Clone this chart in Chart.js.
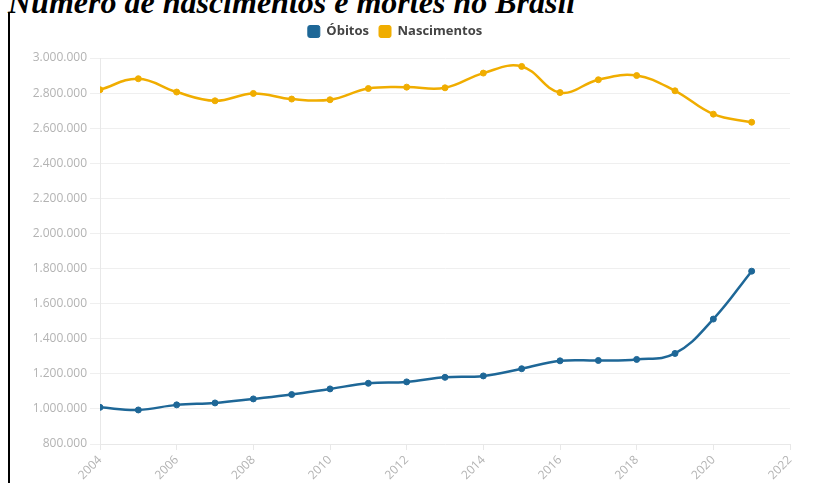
<!DOCTYPE html>
<html>
<head>
<meta charset="utf-8">
<script src="https://cdn.jsdelivr.net/npm/chart.js@4"></script>
<style>
    body { margin: 0; background: #fff; overflow: hidden; }
    #title {
        position: absolute; left: 8px; top: -14px; margin: 0;
        font: italic bold 32px "Liberation Serif", "Times New Roman", serif;
        line-height: 32px; white-space: nowrap; color: #000;
    }
    #rule { position: absolute; left: 8px; top: 12px; width: 2px; height: 471px; background: #000; }
    #wrap { position: absolute; left: 0; top: 0; width: 817px; height: 483px; }
</style>
</head>
<body>
<div id="title">Número de nascimentos e mortes no Brasil</div>
<div id="rule"></div>
<div id="wrap"><canvas id="chart"></canvas></div>
<script>
const years = [2004, 2005, 2006, 2007, 2008, 2009, 2010, 2011, 2012, 2013,
    2014, 2015, 2016, 2017, 2018, 2019, 2020, 2021];
const obitos = [1009000, 994000, 1023000, 1034000, 1057000, 1082000, 1114000, 1146000, 1154000, 1180000,
    1188000, 1229000, 1274000, 1276000, 1282000, 1316000, 1512000, 1785000];
const nascimentos = [2819000, 2882000, 2806000, 2756000, 2798000, 2766000, 2762000, 2826000, 2834000, 2830000,
    2914000, 2952000, 2803000, 2876000, 2900000, 2813000, 2680000, 2634000];

const BLUE = "#1e6797";
const YELLOW = "#f0ad00";
const tickFont = { family: "'Open Sans', sans-serif", size: 12 };

function points(values) {
    return years.map((y, i) => ({ x: y, y: values[i] }));
}

function dots(n) {
    return String(n).replace(/\B(?=(\d{3})+(?!\d))/g, ".");
}

// extra room between legend and plot area
const legendGap = {
    id: "legendGap",
    beforeLayout(chart) {
        const lg = chart.legend;
        if (lg && !lg._gap) {
            const fit = lg.fit;
            lg.fit = function () { fit.call(lg); lg.height += 10; };
            lg._gap = true;
        }
    }
};

new Chart(document.getElementById("chart"), {
    type: "line",
    data: {
        datasets: [
            {
                label: "Óbitos",
                data: points(obitos),
                borderColor: BLUE,
                backgroundColor: BLUE,
                borderWidth: 2.5,
                pointRadius: 3,
                pointBorderWidth: 1,
                tension: 0.4
            },
            {
                label: "Nascimentos",
                data: points(nascimentos),
                borderColor: YELLOW,
                backgroundColor: YELLOW,
                borderWidth: 2.5,
                pointRadius: 3,
                pointBorderWidth: 1,
                tension: 0.4
            }
        ]
    },
    plugins: [legendGap],
    options: {
        responsive: true,
        maintainAspectRatio: false,
        animation: false,
        layout: { padding: { top: 15, left: 0, right: 27, bottom: 0 } },
        plugins: {
            tooltip: { enabled: false },
            legend: {
                position: "top",
                labels: {
                    color: "#444",
                    font: { family: "'Open Sans', sans-serif", size: 13, weight: "bold" },
                    boxWidth: 12,
                    boxHeight: 12,
                    useBorderRadius: true,
                    borderRadius: 2,
                    padding: 10,
                    generateLabels(chart) {
                        return Chart.defaults.plugins.legend.labels.generateLabels(chart)
                            .map(item => ({ ...item, lineWidth: 1 }));
                    }
                }
            }
        },
        scales: {
            x: {
                type: "linear",
                min: 2004,
                max: 2022,
                afterFit(s) { s.height = 39; },
                grid: { drawOnChartArea: false, color: "#e8e8e8", tickLength: 6 },
                border: { color: "#e8e8e8" },
                ticks: {
                    stepSize: 2,
                    color: "#b3b3b3",
                    font: tickFont,
                    minRotation: 45,
                    maxRotation: 45,
                    callback: v => String(v)
                }
            },
            y: {
                min: 800000,
                max: 3000000,
                afterFit(s) { s.width = 100; },
                grid: { color: "#efefef", tickLength: 10 },
                border: { color: "#e8e8e8" },
                ticks: {
                    stepSize: 200000,
                    color: "#b3b3b3",
                    font: tickFont,
                    callback: v => dots(v)
                }
            }
        }
    }
});
</script>
</body>
</html>
